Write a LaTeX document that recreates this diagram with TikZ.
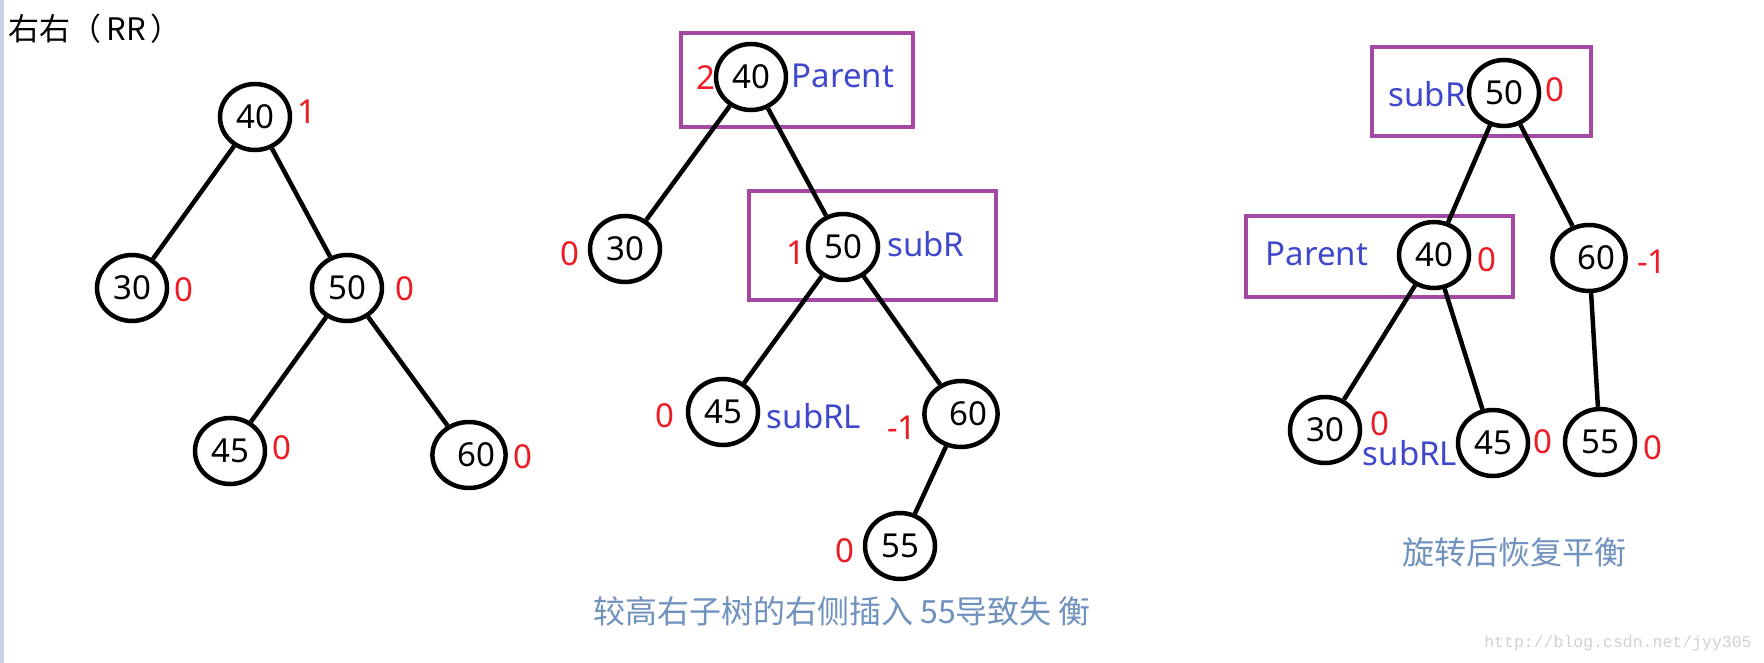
\documentclass[tikz,border=0pt]{standalone}
\usepackage{fontspec}
\setmainfont{Noto Sans}
\newfontfamily\cjk{Noto Sans CJK SC}
\newfontfamily\wmfont{Liberation Mono}
\usetikzlibrary{shapes.geometric}
\definecolor{numred}{RGB}{237,28,36}
\definecolor{lblblue}{RGB}{63,72,204}
\definecolor{boxpurple}{RGB}{163,73,164}
\definecolor{capblue}{RGB}{112,146,190}
\definecolor{stripcol}{RGB}{200,210,228}
\begin{document}
\begin{tikzpicture}[x=1pt,y=-1pt,
  tnode/.style={draw=black,line width=4.5pt,ellipse,minimum width=70pt,minimum height=66pt,inner sep=0pt,font=\fontsize{33}{36}\selectfont},
  treeline/.style={draw=black,line width=4.5pt},
  bfac/.style={text=numred,inner sep=0pt,font=\fontsize{33}{36}\selectfont},
  nmlbl/.style={text=lblblue,inner sep=0pt,font=\fontsize{33}{36}\selectfont},
  hbox/.style={draw=boxpurple,line width=4pt},
  captext/.style={text=capblue,inner sep=0pt,font=\cjk\fontsize{32}{36}\selectfont}]
\useasboundingbox (0,0) rectangle (1764,663);
\fill[white] (0,0) rectangle (1764,663);
\fill[stripcol] (0,0) rectangle (4,663);
\node[anchor=west,inner sep=0pt,font=\cjk\fontsize{31}{34}\selectfont] (title) at (8,29) {右右（\,RR\,）};
% left tree
\node[tnode] (L40) at (255,117) {40};
\node[tnode] (L30) at (132,288) {30};
\node[tnode] (L50) at (347,288) {50\hspace{12pt}};
\node[tnode] (L45) at (230,451) {45};
\node[tnode] (L60) at (469,455) {\hspace{14pt}60};
\draw[treeline] (L40) -- (L30);
\draw[treeline] (L40) -- (L50);
\draw[treeline] (L50) -- (L45);
\draw[treeline] (L50) -- (L60);
\node[bfac] (bL40) at (307,112) {1};
\node[bfac] (bL30) at (184,290) {0};
\node[bfac] (bL50) at (405,289) {0};
\node[bfac] (bL45) at (282,448) {0};
\node[bfac] (bL60) at (523,457) {0};
% middle tree
\draw[hbox] (681,33) rectangle (913,127);
\draw[hbox] (749,191) rectangle (996,300);
\node[tnode] (M40) at (751,77) {40};
\node[tnode] (M30) at (625,249) {30};
\node[tnode] (M50) at (843,247) {50};
\node[tnode] (M45) at (723,412) {45};
\node[tnode] (M60) at (961,414) {\hspace{14pt}60};
\node[tnode] (M55) at (900,546) {55};
\draw[treeline] (M40) -- (M30);
\draw[treeline] (M40) -- (M50);
\draw[treeline] (M50) -- (M45);
\draw[treeline] (M50) -- (M60);
\draw[treeline] (M60) -- (M55);
\node[bfac] (bM40) at (706,78) {2};
\node[nmlbl] (nM40) at (843,76) {Parent};
\node[bfac] (bM30) at (570,254) {0};
\node[bfac] (bM50) at (796,253) {1};
\node[nmlbl] (nM50) at (926,244) {subR};
\node[bfac] (bM45) at (665,416) {0};
\node[nmlbl] (nM45) at (814,416) {subRL};
\node[bfac] (bM60) at (902,428) {-1};
\node[bfac] (bM55) at (845,551) {0};
\node[captext] (capM) at (842,611) {较高右子树的右侧插入 55导致失 衡};
% right tree
\draw[hbox] (1372,47) rectangle (1591,136);
\draw[hbox] (1246,216) rectangle (1513,297);
\node[tnode] (R50) at (1504,93) {50};
\node[tnode] (R40) at (1434,255) {40};
\node[tnode] (R60) at (1589,258) {\hspace{14pt}60};
\node[tnode] (R30) at (1325,430) {30};
\node[tnode] (R45) at (1493,443) {45};
\node[tnode] (R55) at (1600,442) {55};
\draw[treeline] (R50) -- (R40);
\draw[treeline] (R50) -- (R60);
\draw[treeline] (R40) -- (R30);
\draw[treeline] (R40) -- (R45);
\draw[treeline] (R60) -- (R55);
\node[nmlbl] (nR50) at (1427,94) {subR};
\node[bfac] (bR50) at (1555,90) {0};
\node[nmlbl] (nR40) at (1317,254) {Parent};
\node[bfac] (bR40) at (1487,260) {0};
\node[bfac] (bR60) at (1652,262) {-1};
\node[bfac] (bR30) at (1380,424) {0};
\node[bfac] (bR45) at (1543,442) {0};
\node[nmlbl] (nR45) at (1410,453) {subRL};
\node[bfac] (bR55) at (1653,448) {0};
\node[captext] (capR) at (1514,552) {旋转后恢复平衡};
\node[text=black!18,inner sep=0pt,font=\wmfont\fontsize{16.5}{18}\selectfont] (wm) at (1618,643) {http://blog.csdn.net/jyy305};
\end{tikzpicture}
\end{document}
